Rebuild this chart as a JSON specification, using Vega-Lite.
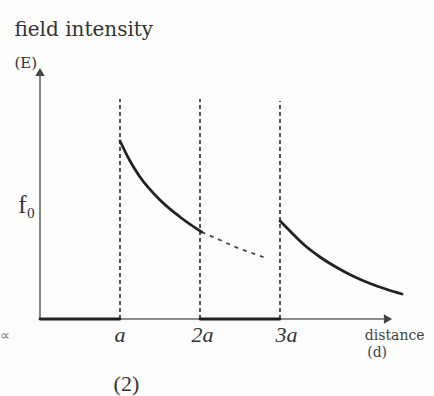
{
  "$schema": "https://vega.github.io/schema/vega-lite/v6.json",
  "width": 434,
  "height": 396,
  "autosize": {"type": "fit", "contains": "padding"},
  "padding": 0,
  "background": "#fdfdfc",
  "config": {"view": {"stroke": null}},
  "datasets": {
    "field": [
      {"d": 0, "E": 0, "part": "inside core"},
      {"d": 1, "E": 0, "part": "inside core"},
      {"d": 1, "E": 1.78, "part": "between"},
      {"d": 1.125, "E": 1.58, "part": "between"},
      {"d": 1.25, "E": 1.42, "part": "between"},
      {"d": 1.5, "E": 1.19, "part": "between"},
      {"d": 1.75, "E": 1.02, "part": "between"},
      {"d": 2.02, "E": 0.87, "part": "between"},
      {"d": 2, "E": 0, "part": "inside shell"},
      {"d": 3, "E": 0, "part": "inside shell"},
      {"d": 3, "E": 0.98, "part": "outside"},
      {"d": 3.125, "E": 0.88, "part": "outside"},
      {"d": 3.29, "E": 0.75, "part": "outside"},
      {"d": 3.5, "E": 0.62, "part": "outside"},
      {"d": 3.71, "E": 0.515, "part": "outside"},
      {"d": 3.91, "E": 0.43, "part": "outside"},
      {"d": 4.125, "E": 0.355, "part": "outside"},
      {"d": 4.34, "E": 0.295, "part": "outside"},
      {"d": 4.525, "E": 0.25, "part": "outside"}
    ],
    "extrapolated": [
      {"d": 2.02, "E": 0.87},
      {"d": 2.25, "E": 0.79},
      {"d": 2.475, "E": 0.71},
      {"d": 2.65, "E": 0.66},
      {"d": 2.82, "E": 0.61}
    ],
    "boundaries": [
      {"d": 1, "base": 0, "top": 2.2},
      {"d": 2, "base": 0, "top": 2.2},
      {"d": 3, "base": 0, "top": 2.18}
    ],
    "axes": [
      {"axis": "E", "d0": 0, "d1": 0, "E0": 0, "E1": 2.45, "headD": 0, "headE": 2.47},
      {"axis": "d", "d0": 0, "d1": 4.33, "E0": 0, "E1": 0, "headD": 4.35, "headE": 0}
    ],
    "labels": [
      {"role": "heading", "label": "field intensity", "d": -0.32, "E": 2.83},
      {"role": "unit", "label": "(E)", "d": -0.32, "E": 2.51},
      {"role": "value", "label": "f₀", "d": -0.06, "E": 1.14},
      {"role": "tick", "label": "a", "d": 1, "E": -0.23},
      {"role": "tick", "label": "2a", "d": 2.03, "E": -0.23},
      {"role": "tick", "label": "3a", "d": 3.08, "E": -0.23},
      {"role": "axisname", "label": "distance", "d": 4.06, "E": -0.21},
      {"role": "axisname", "label": "(d)", "d": 4.09, "E": -0.38},
      {"role": "figure", "label": "(2)", "d": 1.08, "E": -0.72},
      {"role": "stray", "label": "∝", "d": -0.5, "E": -0.21}
    ]
  },
  "encoding": {
    "x": {"type": "quantitative", "scale": {"domain": [-0.5, 4.925], "nice": false, "zero": false}, "axis": null},
    "y": {"type": "quantitative", "scale": {"domain": [-0.77, 3.19], "nice": false, "zero": false}, "axis": null}
  },
  "layer": [
    {
      "data": {"name": "boundaries"},
      "mark": {"type": "rule", "stroke": "#2a2a2a", "strokeWidth": 1.6, "strokeDash": [4, 3]},
      "encoding": {
        "x": {"field": "d", "type": "quantitative"},
        "y": {"field": "base", "type": "quantitative"},
        "y2": {"field": "top"}
      }
    },
    {
      "data": {"name": "axes"},
      "mark": {"type": "rule", "stroke": "#666", "strokeWidth": 1.6},
      "encoding": {
        "x": {"field": "d0", "type": "quantitative"},
        "x2": {"field": "d1"},
        "y": {"field": "E0", "type": "quantitative"},
        "y2": {"field": "E1"}
      }
    },
    {
      "data": {"name": "axes"},
      "transform": [{"filter": "datum.axis === 'E'"}],
      "mark": {"type": "point", "shape": "triangle-up", "filled": true, "size": 90, "color": "#444", "opacity": 1},
      "encoding": {
        "x": {"field": "headD", "type": "quantitative"},
        "y": {"field": "headE", "type": "quantitative"}
      }
    },
    {
      "data": {"name": "axes"},
      "transform": [{"filter": "datum.axis === 'd'"}],
      "mark": {"type": "point", "shape": "triangle-right", "filled": true, "size": 90, "color": "#444", "opacity": 1},
      "encoding": {
        "x": {"field": "headD", "type": "quantitative"},
        "y": {"field": "headE", "type": "quantitative"}
      }
    },
    {
      "data": {"name": "extrapolated"},
      "mark": {"type": "line", "stroke": "#444", "strokeWidth": 1.8, "strokeDash": [4, 5], "interpolate": "monotone"},
      "encoding": {
        "x": {"field": "d", "type": "quantitative"},
        "y": {"field": "E", "type": "quantitative"}
      }
    },
    {
      "data": {"name": "field"},
      "mark": {"type": "line", "stroke": "#222", "strokeWidth": 2.8, "interpolate": "monotone", "strokeCap": "round"},
      "encoding": {
        "x": {"field": "d", "type": "quantitative"},
        "y": {"field": "E", "type": "quantitative"},
        "detail": {"field": "part"}
      }
    },
    {
      "data": {"name": "labels"},
      "transform": [{"filter": "datum.role === 'heading'"}],
      "mark": {"type": "text", "align": "left", "baseline": "alphabetic", "font": "DejaVu Serif", "fontSize": 20, "fill": "#333"},
      "encoding": {
        "x": {"field": "d", "type": "quantitative"},
        "y": {"field": "E", "type": "quantitative"},
        "text": {"field": "label"}
      }
    },
    {
      "data": {"name": "labels"},
      "transform": [{"filter": "datum.role === 'unit'"}],
      "mark": {"type": "text", "align": "left", "baseline": "alphabetic", "font": "DejaVu Serif", "fontSize": 15, "fill": "#333"},
      "encoding": {
        "x": {"field": "d", "type": "quantitative"},
        "y": {"field": "E", "type": "quantitative"},
        "text": {"field": "label"}
      }
    },
    {
      "data": {"name": "labels"},
      "transform": [{"filter": "datum.role === 'value'"}],
      "mark": {"type": "text", "align": "right", "baseline": "middle", "font": "Liberation Serif", "fontSize": 25, "fill": "#333"},
      "encoding": {
        "x": {"field": "d", "type": "quantitative"},
        "y": {"field": "E", "type": "quantitative"},
        "text": {"field": "label"}
      }
    },
    {
      "data": {"name": "labels"},
      "transform": [{"filter": "datum.role === 'tick'"}],
      "mark": {"type": "text", "align": "center", "baseline": "alphabetic", "font": "Liberation Serif", "fontStyle": "italic", "fontSize": 22, "fill": "#333"},
      "encoding": {
        "x": {"field": "d", "type": "quantitative"},
        "y": {"field": "E", "type": "quantitative"},
        "text": {"field": "label"}
      }
    },
    {
      "data": {"name": "labels"},
      "transform": [{"filter": "datum.role === 'axisname'"}],
      "mark": {"type": "text", "align": "left", "baseline": "alphabetic", "font": "DejaVu Serif", "fontSize": 14, "fill": "#444"},
      "encoding": {
        "x": {"field": "d", "type": "quantitative"},
        "y": {"field": "E", "type": "quantitative"},
        "text": {"field": "label"}
      }
    },
    {
      "data": {"name": "labels"},
      "transform": [{"filter": "datum.role === 'figure'"}],
      "mark": {"type": "text", "align": "center", "baseline": "alphabetic", "font": "Liberation Serif", "fontSize": 22, "fill": "#333"},
      "encoding": {
        "x": {"field": "d", "type": "quantitative"},
        "y": {"field": "E", "type": "quantitative"},
        "text": {"field": "label"}
      }
    },
    {
      "data": {"name": "labels"},
      "transform": [{"filter": "datum.role === 'stray'"}],
      "mark": {"type": "text", "align": "left", "baseline": "alphabetic", "font": "Liberation Serif", "fontSize": 14, "fill": "#777"},
      "encoding": {
        "x": {"field": "d", "type": "quantitative"},
        "y": {"field": "E", "type": "quantitative"},
        "text": {"field": "label"}
      }
    }
  ]
}
